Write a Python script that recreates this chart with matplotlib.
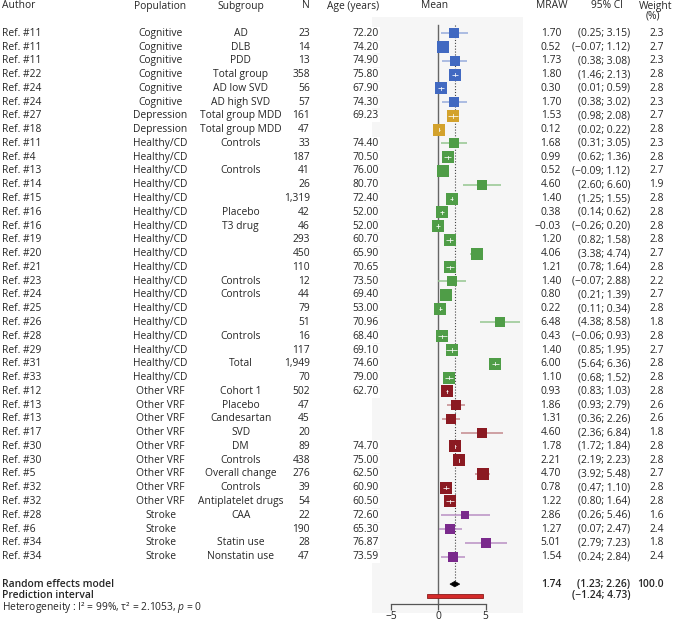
import numpy as np
import matplotlib
matplotlib.use('Agg')
import matplotlib.pyplot as plt
from matplotlib.transforms import blended_transform_factory
from matplotlib.patches import Polygon, Rectangle

plt.rcParams['font.family'] = ['Open Sans', 'DejaVu Sans']
plt.rcParams['mathtext.fontset'] = 'custom'
plt.rcParams['mathtext.rm'] = 'Open Sans'
plt.rcParams['mathtext.it'] = 'Open Sans:italic'
plt.rcParams['mathtext.bf'] = 'Open Sans:bold'

# ---------------- data ----------------
authors = ["Ref. #11", "Ref. #11", "Ref. #11", "Ref. #22", "Ref. #24", "Ref. #24",
           "Ref. #27", "Ref. #18",
           "Ref. #11", "Ref. #4", "Ref. #13", "Ref. #14", "Ref. #15", "Ref. #16", "Ref. #16",
           "Ref. #19", "Ref. #20", "Ref. #21", "Ref. #23", "Ref. #24", "Ref. #25", "Ref. #26",
           "Ref. #28", "Ref. #29", "Ref. #31", "Ref. #33",
           "Ref. #12", "Ref. #13", "Ref. #13", "Ref. #17", "Ref. #30", "Ref. #30", "Ref. #5",
           "Ref. #32", "Ref. #32",
           "Ref. #28", "Ref. #6", "Ref. #34", "Ref. #34"]
populations = (["Cognitive"] * 6 + ["Depression"] * 2 + ["Healthy/CD"] * 18 +
               ["Other VRF"] * 9 + ["Stroke"] * 4)
subgroups = ["AD", "DLB", "PDD", "Total group", "AD low SVD", "AD high SVD",
             "Total group MDD", "Total group MDD",
             "Controls", "", "Controls", "", "", "Placebo", "T3 drug", "", "", "",
             "Controls", "Controls", "", "", "Controls", "", "Total", "",
             "Cohort 1", "Placebo", "Candesartan", "SVD", "DM", "Controls",
             "Overall change", "Controls", "Antiplatelet drugs",
             "CAA", "", "Statin use", "Nonstatin use"]
n_subjects = [23, 14, 13, 358, 56, 57, 161, 47, 33, 187, 41, 26, 1319, 42, 46, 293, 450,
              110, 12, 44, 79, 51, 16, 117, 1949, 70, 502, 47, 45, 20, 89, 438, 276, 39,
              54, 22, 190, 28, 47]
ages = [72.20, 74.20, 74.90, 75.80, 67.90, 74.30, 69.23, None, 74.40, 70.50, 76.00,
        80.70, 72.40, 52.00, 52.00, 60.70, 65.90, 70.65, 73.50, 69.40, 53.00, 70.96,
        68.40, 69.10, 74.60, 79.00, 62.70, None, None, None, 74.70, 75.00, 62.50, 60.90,
        60.50, 72.60, 65.30, 76.87, 73.59]
mraw = [1.70, 0.52, 1.73, 1.80, 0.30, 1.70, 1.53, 0.12, 1.68, 0.99, 0.52, 4.60, 1.40,
        0.38, -0.03, 1.20, 4.06, 1.21, 1.40, 0.80, 0.22, 6.48, 0.43, 1.40, 6.00, 1.10,
        0.93, 1.86, 1.31, 4.60, 1.78, 2.21, 4.70, 0.78, 1.22, 2.86, 1.27, 5.01, 1.54]
ci_low = [0.25, -0.07, 0.38, 1.46, 0.01, 0.38, 0.98, 0.02, 0.31, 0.62, -0.09, 2.60, 1.25,
          0.14, -0.26, 0.82, 3.38, 0.78, -0.07, 0.21, 0.11, 4.38, -0.06, 0.85, 5.64, 0.68,
          0.83, 0.93, 0.36, 2.36, 1.72, 2.19, 3.92, 0.47, 0.80, 0.26, 0.07, 2.79, 0.24]
ci_high = [3.15, 1.12, 3.08, 2.13, 0.59, 3.02, 2.08, 0.22, 3.05, 1.36, 1.12, 6.60, 1.55,
           0.62, 0.20, 1.58, 4.74, 1.64, 2.88, 1.39, 0.34, 8.58, 0.93, 1.95, 6.36, 1.52,
           1.03, 2.79, 2.26, 6.84, 1.84, 2.23, 5.48, 1.10, 1.64, 5.46, 2.47, 7.23, 2.84]
weights = [2.3, 2.7, 2.3, 2.8, 2.8, 2.3, 2.7, 2.8, 2.3, 2.8, 2.7, 1.9, 2.8, 2.8, 2.8,
           2.8, 2.7, 2.8, 2.2, 2.7, 2.8, 1.8, 2.8, 2.7, 2.8, 2.8, 2.8, 2.6, 2.6, 1.8,
           2.8, 2.8, 2.7, 2.8, 2.8, 1.6, 2.4, 1.8, 2.4]

re_est, re_low, re_high = 1.74, 1.23, 2.26
pi_low, pi_high = -1.24, 4.73
x_ticks = [-5, 0, 5]

group_colors = {
    "Cognitive": ("#4169c1", "#98acdc"),
    "Depression": ("#d3a22c", "#e6cb8a"),
    "Healthy/CD": ("#4f9d47", "#95c78f"),
    "Other VRF": ("#8b1a22", "#c4898d"),
    "Stroke": ("#7a2a8c", "#b98fc4"),
}

TXT = '#262626'
FS = 7.4
MINUS = '\u2212'


def fmt(v):
    s = f"{v:.2f}"
    return s.replace('-', MINUS)


# ---------------- layout ----------------
W, H = 674, 621
fig = plt.figure(figsize=(W / 100, H / 100), dpi=100)
ROW = 13.77
Y0 = 33.3


def yrow(py):
    return (py - Y0) / ROW


top_px, bot_px = 17, 613
left_px, right_px = 372, 523
ax = fig.add_axes([left_px / W, 1 - bot_px / H, (right_px - left_px) / W,
                   (bot_px - top_px) / H])
ax.set_facecolor('#f6f6f6')
ax.set_xlim(-7.0, 8.94)
ax.set_ylim(yrow(bot_px), yrow(top_px))
for s in ['top', 'left', 'right']:
    ax.spines[s].set_visible(False)
ax.spines['bottom'].set_position(('data', yrow(604)))
ax.spines['bottom'].set_bounds(-5, 5)
ax.spines['bottom'].set_color('#555555')
ax.spines['bottom'].set_linewidth(0.9)
ax.set_yticks([])
ax.set_xticks(x_ticks)
ax.set_xticklabels([str(t).replace('-', MINUS) for t in x_ticks])
ax.tick_params(axis='x', length=4.3, width=0.9, color='#555555', labelsize=FS,
               labelcolor=TXT, pad=0.6)

px_per_unit = (right_px - left_px) / (8.94 + 7.0)

# reference lines
ax.plot([0, 0], [yrow(25), yrow(604)], color='#666666', lw=1.0, zorder=1)
ax.plot([re_est, re_est], [yrow(25), 40 - 0.2], color='#444444', lw=0.8,
        ls=(0, (1, 1.6)), zorder=1)

nrows = len(mraw)
for i in range(nrows):
    c, light = group_colors[populations[i]]
    side_px = 6.8 * np.sqrt(weights[i])
    hw = side_px / 2 / px_per_unit
    m, lo, hi = mraw[i], ci_low[i], ci_high[i]
    inside = (lo >= m - hw) and (hi <= m + hw)
    if not inside:
        ax.plot([lo, hi], [i, i], color=light, lw=1.1, solid_capstyle='butt', zorder=2)
    ax.plot([m], [i], marker='s', ms=side_px * 0.72, color=c, mew=0, zorder=3)
    if inside:
        ax.plot([lo, hi], [i, i], color='white', lw=0.6, solid_capstyle='butt',
                alpha=0.9, zorder=4)
        ax.plot([m, m], [i - 0.12, i + 0.12], color='white', lw=0.6, alpha=0.9,
                zorder=4)

# random effects diamond
h = 0.2
ax.add_patch(Polygon([[re_low, 40], [re_est, 40 - h], [re_high, 40], [re_est, 40 + h]],
                     closed=True, facecolor='black', edgecolor='black', lw=0.5, zorder=4))
# prediction interval bar
ax.add_patch(Rectangle((pi_low, 40.85 - 0.14), pi_high - pi_low, 0.28,
                       facecolor='#d42a2a', edgecolor='#8b1a1a', lw=0.6, zorder=4))

# ---------------- text columns ----------------
tr = blended_transform_factory(fig.transFigure, ax.transData)


def T(px, row, s, ha='left', **kw):
    kw.setdefault('color', TXT)
    kw.setdefault('fontsize', FS)
    return ax.text(px / W, row, s, transform=tr, ha=ha, va='center', clip_on=False, **kw)


hdr = yrow(6)
T(2, hdr, "Author")
T(160.5, hdr, "Population", ha='center')
T(240.7, hdr, "Subgroup", ha='center')
T(310, hdr, "N", ha='right')
T(379, hdr, "Age (years)", ha='right')
T(435, hdr, "Mean", ha='center')
T(552, hdr, "MRAW", ha='center')
T(607, hdr, "95% CI", ha='center')
T(656, hdr, "Weight", ha='center')
T(653, yrow(15.5), "(%)", ha='center')

for i in range(nrows):
    T(2, i, authors[i])
    T(160.5, i, populations[i], ha='center')
    if subgroups[i]:
        T(240.7, i, subgroups[i], ha='center')
    T(310, i, f"{n_subjects[i]:,}", ha='right')
    if ages[i] is not None:
        T(379, i, f"{ages[i]:.2f}", ha='right',
          bbox=dict(facecolor='white', edgecolor='none', pad=0.6))
    T(561, i, fmt(mraw[i]), ha='right')
    T(630, i, f"({fmt(ci_low[i])}; {fmt(ci_high[i])})", ha='right')
    T(664, i, f"{weights[i]:.1f}", ha='right')

T(2, 40, "Random effects model", fontweight='semibold')
T(561, 40, fmt(re_est), ha='right', fontweight='semibold')
T(630, 40, f"({fmt(re_low)}; {fmt(re_high)})", ha='right', fontweight='semibold')
T(664, 40, "100.0", ha='right', fontweight='semibold')
T(2, yrow(595.7), "Prediction interval", fontweight='semibold')
T(630, yrow(595.7), f"({fmt(pi_low)}; {fmt(pi_high)})", ha='right', fontweight='semibold')
T(2, yrow(607.5), "Heterogeneity : I\u00b2 = 99%, \u03c4\u00b2 = 2.1053, $p$ = 0")

fig.savefig('out.png', dpi=100)
